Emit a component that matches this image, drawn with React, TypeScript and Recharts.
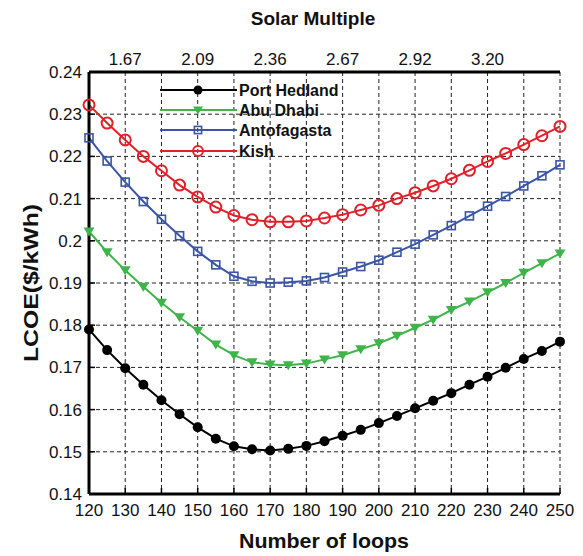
import {
  LineChart,
  Line,
  XAxis,
  YAxis,
  CartesianGrid,
} from "recharts";

const loops = [
  120, 125, 130, 135, 140, 145, 150, 155, 160, 165, 170, 175, 180, 185, 190,
  195, 200, 205, 210, 215, 220, 225, 230, 235, 240, 245, 250,
];

const portHedland = [
  0.179, 0.1741, 0.1698, 0.1659, 0.1622, 0.1589, 0.1558, 0.1531, 0.1513,
  0.1506, 0.1503, 0.1507, 0.1514, 0.1525, 0.1538, 0.1552, 0.1568, 0.1585,
  0.1603, 0.1621, 0.1639, 0.1659, 0.1678, 0.1699, 0.172, 0.1739, 0.1761,
];
const abuDhabi = [
  0.2022, 0.1973, 0.193, 0.1891, 0.1853, 0.1819, 0.1787, 0.1754, 0.1729,
  0.1712, 0.1707, 0.1705, 0.1709, 0.1719, 0.1729, 0.1743, 0.1757, 0.1775,
  0.1794, 0.1813, 0.1836, 0.1856, 0.1878, 0.19, 0.1924, 0.1947, 0.197,
];
const antofagasta = [
  0.2244, 0.2189, 0.2139, 0.2093, 0.2051, 0.2012, 0.1975, 0.1943, 0.1916,
  0.1904, 0.19, 0.1902, 0.1905, 0.1913, 0.1926, 0.1939, 0.1954, 0.1973,
  0.1992, 0.2014, 0.2036, 0.2059, 0.2082, 0.2105, 0.213, 0.2154, 0.218,
];
const kish = [
  0.2322, 0.2279, 0.2239, 0.22, 0.2166, 0.2132, 0.2104, 0.208, 0.206, 0.205,
  0.2045, 0.2045, 0.2047, 0.2054, 0.2062, 0.2073, 0.2084, 0.21, 0.2114,
  0.213, 0.2147, 0.2167, 0.2188, 0.2207, 0.2228, 0.2249, 0.2271,
];

const loopTicks = [
  120, 130, 140, 150, 160, 170, 180, 190, 200, 210, 220, 230, 240, 250,
];
const lcoeTicks = [0.14, 0.15, 0.16, 0.17, 0.18, 0.19, 0.2, 0.21, 0.22, 0.23, 0.24];
const solarTicks = [130, 150, 170, 190, 210, 230];
const solarLabels = ["1.67", "2.09", "2.36", "2.67", "2.92", "3.20"];

const data = loops.map((n, i) => ({
  loops: n,
  portHedland: portHedland[i],
  abuDhabi: abuDhabi[i],
  antofagasta: antofagasta[i],
  kish: kish[i],
}));

const FONT = "'Liberation Sans', Arial, sans-serif";
const BLACK = "#000000";
const GREEN = "#3fb44a";
const BLUE = "#3a55a5";
const RED = "#e2202a";
const TEXT = "#111";

function Marker({ kind, cx, cy, s = 1 }: { kind: string; cx: number; cy: number; s?: number }) {
  if (kind === "circle") return <circle cx={cx} cy={cy} r={5 * s} fill={BLACK} />;
  if (kind === "triangle")
    return (
      <path
        d={`M${cx - 5.5 * s},${cy - 4 * s} L${cx + 5.5 * s},${cy - 4 * s} L${cx},${cy + 5 * s} Z`}
        fill={GREEN}
      />
    );
  if (kind === "square")
    return (
      <rect
        x={cx - 4 * s}
        y={cy - 4 * s}
        width={8 * s}
        height={8 * s}
        fill="none"
        stroke={BLUE}
        strokeWidth={1.6}
      />
    );
  return <circle cx={cx} cy={cy} r={5.5 * s} fill="none" stroke={RED} strokeWidth={2} />;
}

const series = [
  { key: "portHedland", name: "Port Hedland", color: BLACK, kind: "circle" },
  { key: "abuDhabi", name: "Abu Dhabi", color: GREEN, kind: "triangle" },
  { key: "antofagasta", name: "Antofagasta", color: BLUE, kind: "square" },
  { key: "kish", name: "Kish", color: RED, kind: "ring" },
];

// legend drawn straight into the svg, top-left inside the plot
function LegendBox() {
  const rows = [90, 110, 130, 151];
  return (
    <g>
      {series.map((s, i) => {
        const y = rows[i];
        return (
          <g key={s.key}>
            <line x1={160} x2={237} y1={y} y2={y} stroke={s.color} strokeWidth={2.2} />
            <Marker kind={s.kind} cx={198} cy={y} s={0.9} />
            <text
              x={239}
              y={y + 6}
              fontFamily={FONT}
              fontWeight="bold"
              fontSize={16}
              fill={TEXT}
            >
              {s.name}
            </text>
          </g>
        );
      })}
    </g>
  );
}

// bottom tick: label below, short solid tick pointing into the plot
function BottomTick(p: any) {
  const axisY = p.y - 10;
  return (
    <g>
      <line x1={p.x} x2={p.x} y1={axisY} y2={axisY - 6} stroke={BLACK} strokeWidth={1.5} />
      <text x={p.x} y={p.y} dy="0.71em" textAnchor="middle" fontFamily={FONT} fontSize={17} fill={TEXT}>
        {p.payload.value}
      </text>
    </g>
  );
}

function LeftTick(p: any) {
  const axisX = p.x + 7;
  return (
    <g>
      <line x1={axisX} x2={axisX + 6} y1={p.y} y2={p.y} stroke={BLACK} strokeWidth={1.5} />
      <text x={p.x} y={p.y} dy="0.355em" textAnchor="end" fontFamily={FONT} fontSize={17} fill={TEXT}>
        {String(+Number(p.payload.value).toFixed(2))}
      </text>
    </g>
  );
}

export default function App() {
  const tickStyle = { fontFamily: FONT, fontSize: 17, fill: TEXT };
  return (
    <div style={{ position: "absolute", left: 0, top: 0, background: "#fff" }}>
      <LineChart
        width={583}
        height={556}
        data={data}
        margin={{ top: 42, right: 23, bottom: 0, left: 0 }}
      >
        <CartesianGrid stroke="#222" strokeDasharray="4 3" strokeWidth={1} />
        <XAxis
          dataKey="loops"
          type="number"
          domain={[120, 250]}
          ticks={loopTicks}
          height={62}
          tickSize={0}
          tickMargin={10}
          tick={<BottomTick />}
          axisLine={{ stroke: BLACK, strokeWidth: 3 }}
          interval={0}
        />
        <XAxis
          xAxisId="top"
          dataKey="loops"
          type="number"
          orientation="top"
          domain={[120, 250]}
          ticks={solarTicks}
          tickFormatter={(v: number) => solarLabels[solarTicks.indexOf(v)]}
          height={30}
          tickSize={0}
          tickMargin={7}
          tick={tickStyle}
          axisLine={{ stroke: BLACK, strokeWidth: 3 }}
          interval={0}
        />
        <YAxis
          type="number"
          domain={[0.14, 0.24]}
          ticks={lcoeTicks}
          width={89}
          tickSize={0}
          tickMargin={7}
          tick={<LeftTick />}
          axisLine={{ stroke: BLACK, strokeWidth: 3 }}
          interval={0}
        />
        <YAxis
          yAxisId="right"
          orientation="right"
          type="number"
          domain={[0.14, 0.24]}
          width={0}
          tick={false}
          tickLine={false}
          axisLine={{ stroke: BLACK, strokeWidth: 3 }}
        />
        {series.map((s) => (
          <Line
            key={s.key}
            dataKey={s.key}
            name={s.name}
            stroke={s.color}
            strokeWidth={2}
            isAnimationActive={false}
            dot={(p: any) => (
              <Marker key={`${s.key}-${p.index}`} kind={s.kind} cx={p.cx} cy={p.cy} />
            )}
            activeDot={false}
          />
        ))}
        <LegendBox />
        <text
          x={313}
          y={25}
          textAnchor="middle"
          fontFamily={FONT}
          fontWeight="bold"
          fontSize={19}
          fill={TEXT}
        >
          Solar Multiple
        </text>
        <text
          x={324}
          y={548}
          textAnchor="middle"
          fontFamily={FONT}
          fontWeight="bold"
          fontSize={21}
          textLength={170}
          lengthAdjust="spacingAndGlyphs"
          fill={TEXT}
        >
          Number of loops
        </text>
        <text
          x={38}
          y={283}
          textAnchor="middle"
          transform="rotate(-90 38 283)"
          fontFamily={FONT}
          fontWeight="bold"
          fontSize={21}
          textLength={158}
          lengthAdjust="spacingAndGlyphs"
          fill={TEXT}
        >
          LCOE($/kWh)
        </text>
      </LineChart>
    </div>
  );
}
